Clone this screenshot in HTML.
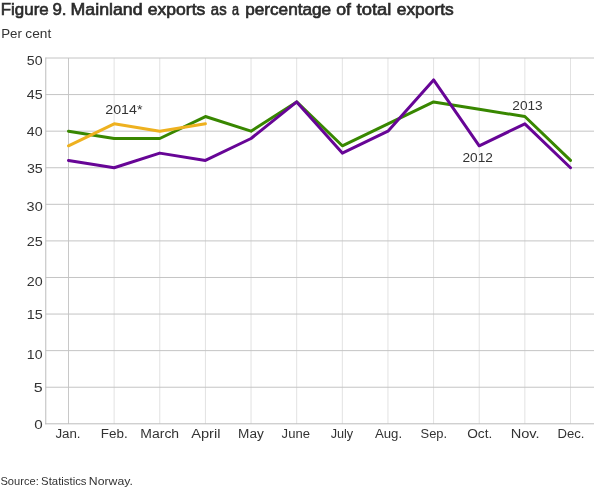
<!DOCTYPE html>
<html><head><meta charset="utf-8"><style>
html,body{margin:0;padding:0;background:#fff;width:610px;height:488px;overflow:hidden}
svg{display:block;will-change:transform}
text{font-family:"Liberation Sans",sans-serif;fill:#333}
text.ttl{fill:#2b2b2b;font-weight:normal;stroke:#2b2b2b;stroke-width:0.65}
</style></head><body>
<svg width="610" height="488" viewBox="0 0 610 488">
<g stroke="#e2e2e2" stroke-width="1" fill="none">
<line x1="68.50" y1="58.0" x2="68.50" y2="423.8" stroke="#c8c8c8"/>
<line x1="114.14" y1="58.0" x2="114.14" y2="423.8"/>
<line x1="159.77" y1="58.0" x2="159.77" y2="423.8"/>
<line x1="205.41" y1="58.0" x2="205.41" y2="423.8"/>
<line x1="251.04" y1="58.0" x2="251.04" y2="423.8"/>
<line x1="296.68" y1="58.0" x2="296.68" y2="423.8"/>
<line x1="342.32" y1="58.0" x2="342.32" y2="423.8"/>
<line x1="387.95" y1="58.0" x2="387.95" y2="423.8"/>
<line x1="433.59" y1="58.0" x2="433.59" y2="423.8"/>
<line x1="479.22" y1="58.0" x2="479.22" y2="423.8"/>
<line x1="524.86" y1="58.0" x2="524.86" y2="423.8"/>
<line x1="570.50" y1="58.0" x2="570.50" y2="423.8"/>
</g>
<g stroke="#c4c4c4" stroke-width="1" fill="none">
<line x1="45.68" y1="387.22" x2="594.00" y2="387.22"/>
<line x1="45.68" y1="350.64" x2="594.00" y2="350.64"/>
<line x1="45.68" y1="314.06" x2="594.00" y2="314.06"/>
<line x1="45.68" y1="277.48" x2="594.00" y2="277.48"/>
<line x1="45.68" y1="240.90" x2="594.00" y2="240.90"/>
<line x1="45.68" y1="204.32" x2="594.00" y2="204.32"/>
<line x1="45.68" y1="167.74" x2="594.00" y2="167.74"/>
<line x1="45.68" y1="131.16" x2="594.00" y2="131.16"/>
<line x1="45.68" y1="94.58" x2="594.00" y2="94.58"/>
<line x1="45.68" y1="58.00" x2="594.00" y2="58.00"/>
</g>
<g stroke="#bcbcbc" stroke-width="1" fill="none">
<line x1="45.77" y1="57.5" x2="45.77" y2="424.3"/>
<line x1="45.27" y1="423.8" x2="594.0" y2="423.8"/>
</g>
<text x="0.80" y="15.00" font-size="16.5" class="ttl" textLength="47.88" lengthAdjust="spacingAndGlyphs">Figure</text>
<text x="52.47" y="15.00" font-size="16.5" class="ttl" textLength="14.09" lengthAdjust="spacingAndGlyphs">9.</text>
<text x="70.60" y="15.00" font-size="16.5" class="ttl" textLength="71.91" lengthAdjust="spacingAndGlyphs">Mainland</text>
<text x="147.87" y="15.00" font-size="16.5" class="ttl" textLength="57.49" lengthAdjust="spacingAndGlyphs">exports</text>
<text x="210.86" y="15.00" font-size="16.5" class="ttl" textLength="15.76" lengthAdjust="spacingAndGlyphs">as</text>
<text x="231.88" y="15.00" font-size="16.5" class="ttl" textLength="7.01" lengthAdjust="spacingAndGlyphs">a</text>
<text x="245.16" y="15.00" font-size="16.5" class="ttl" textLength="86.01" lengthAdjust="spacingAndGlyphs">percentage</text>
<text x="336.24" y="15.00" font-size="16.5" class="ttl" textLength="14.78" lengthAdjust="spacingAndGlyphs">of</text>
<text x="356.61" y="15.00" font-size="16.5" class="ttl" textLength="34.68" lengthAdjust="spacingAndGlyphs">total</text>
<text x="396.71" y="15.00" font-size="16.5" class="ttl" textLength="57.06" lengthAdjust="spacingAndGlyphs">exports</text>
<text x="1.24" y="38.00" font-size="12" textLength="20.71" lengthAdjust="spacingAndGlyphs">Per</text>
<text x="25.38" y="38.00" font-size="12" textLength="25.88" lengthAdjust="spacingAndGlyphs">cent</text>
<text x="34.19" y="429.00" font-size="12" textLength="8.47" lengthAdjust="spacingAndGlyphs">0</text>
<text x="33.82" y="392.00" font-size="12" textLength="8.91" lengthAdjust="spacingAndGlyphs">5</text>
<text x="26.81" y="359.00" font-size="12" textLength="15.72" lengthAdjust="spacingAndGlyphs">10</text>
<text x="26.74" y="319.00" font-size="12" textLength="16.07" lengthAdjust="spacingAndGlyphs">15</text>
<text x="26.78" y="286.00" font-size="12" textLength="15.88" lengthAdjust="spacingAndGlyphs">20</text>
<text x="26.75" y="246.00" font-size="12" textLength="16.06" lengthAdjust="spacingAndGlyphs">25</text>
<text x="26.62" y="211.00" font-size="12" textLength="16.12" lengthAdjust="spacingAndGlyphs">30</text>
<text x="26.93" y="173.00" font-size="12" textLength="15.87" lengthAdjust="spacingAndGlyphs">35</text>
<text x="26.80" y="136.00" font-size="12" textLength="15.78" lengthAdjust="spacingAndGlyphs">40</text>
<text x="26.80" y="99.00" font-size="12" textLength="15.89" lengthAdjust="spacingAndGlyphs">45</text>
<text x="26.83" y="65.00" font-size="12" textLength="15.77" lengthAdjust="spacingAndGlyphs">50</text>
<text x="55.41" y="438.00" font-size="12" textLength="25.16" lengthAdjust="spacingAndGlyphs">Jan.</text>
<text x="100.81" y="438.00" font-size="12" textLength="26.91" lengthAdjust="spacingAndGlyphs">Feb.</text>
<text x="140.30" y="438.00" font-size="12" textLength="38.85" lengthAdjust="spacingAndGlyphs">March</text>
<text x="191.18" y="438.00" font-size="12" textLength="29.25" lengthAdjust="spacingAndGlyphs">April</text>
<text x="238.11" y="438.00" font-size="12" textLength="25.70" lengthAdjust="spacingAndGlyphs">May</text>
<text x="281.64" y="438.00" font-size="12" textLength="28.30" lengthAdjust="spacingAndGlyphs">June</text>
<text x="330.70" y="438.00" font-size="12" textLength="22.48" lengthAdjust="spacingAndGlyphs">July</text>
<text x="374.91" y="438.00" font-size="12" textLength="27.14" lengthAdjust="spacingAndGlyphs">Aug.</text>
<text x="420.59" y="438.00" font-size="12" textLength="26.56" lengthAdjust="spacingAndGlyphs">Sep.</text>
<text x="467.20" y="438.00" font-size="12" textLength="25.09" lengthAdjust="spacingAndGlyphs">Oct.</text>
<text x="510.70" y="438.00" font-size="12" textLength="28.97" lengthAdjust="spacingAndGlyphs">Nov.</text>
<text x="557.51" y="438.00" font-size="12" textLength="26.96" lengthAdjust="spacingAndGlyphs">Dec.</text>
<text x="0.44" y="485.00" font-size="11" textLength="38.31" lengthAdjust="spacingAndGlyphs">Source:</text>
<text x="41.12" y="485.00" font-size="11" textLength="45.41" lengthAdjust="spacingAndGlyphs">Statistics</text>
<text x="88.87" y="485.00" font-size="11" textLength="43.96" lengthAdjust="spacingAndGlyphs">Norway.</text>
<g fill="none" stroke-width="3" stroke-linejoin="round" stroke-linecap="round">
<polyline stroke="#388700" points="68.50,131.16 114.13,138.48 159.77,138.48 205.41,116.53 251.04,131.16 296.68,101.90 342.31,145.79 387.95,123.84 433.58,101.90 479.22,109.21 524.86,116.53 570.49,160.42"/>
<polyline stroke="#670596" points="68.50,160.42 114.13,167.74 159.77,153.11 205.41,160.42 251.04,138.48 296.68,101.90 342.31,153.11 387.95,131.16 433.58,79.95 479.22,145.79 524.86,123.84 570.49,167.74"/>
<polyline stroke="#eeb11f" points="68.50,145.79 114.13,123.84 159.77,131.16 205.41,123.84"/>
</g>
<text x="105.29" y="114.00" font-size="12" textLength="37.17" lengthAdjust="spacingAndGlyphs">2014*</text>
<text x="512.32" y="110.00" font-size="12" textLength="30.41" lengthAdjust="spacingAndGlyphs">2013</text>
<text x="462.41" y="162.00" font-size="12" textLength="30.48" lengthAdjust="spacingAndGlyphs">2012</text>
</svg>
</body></html>
